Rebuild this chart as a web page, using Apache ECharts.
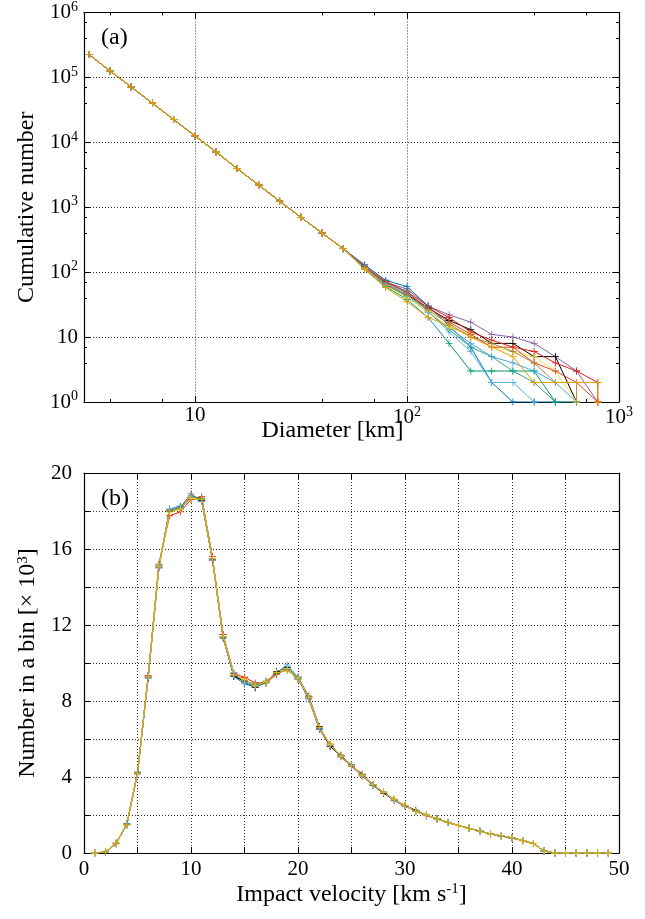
<!DOCTYPE html>
<html>
<head>
<meta charset="utf-8">
<script src="https://cdn.jsdelivr.net/npm/echarts@6/dist/echarts.min.js"></script>
<style>html,body{margin:0;padding:0;background:#fff}#c{width:645px;height:919px}</style>
</head>
<body>
<div id="c"></div>
<script>
// ---------- Panel (a): cumulative number vs diameter ----------
const diameters = [3.16,3.98,5.01,6.31,7.94,10,12.6,15.8,20,25.1,31.6,39.8,50.1,63.1,79.4,100,126,158,200,251,316,398,501,631,794];
// shared part (3.16 ... 50.1 km)
const headCounts = [226000,126000,71000,40000,22500,12600,7100,3950,2200,1240,700,400,230];
// per-run tails (63.1 ... 794 km)
const tailPurple = [125,70,55,30,22,17,11,10,8,5,3,1];
const tailBlack  = [118,65,45,28,18,13,8,8,5,5,1];
const tailRed    = [122,72,50,30,20,12,9,7,6,4,3,2];
const tailOrange = [110,58,35,20,15,10,7,5,2,2,2,2];
const tailYellow = [115,62,40,25,14,11,7,6,5,3,1];
const tailBlue   = [130,75,60,30,15,7,2,1,1,1,1];
const tailLBlue  = [120,66,45,25,12,6,2,2,1];
const tailGreen  = [112,60,38,20,8,3,3,3,3,1];
const tailTeal   = [120,68,50,25,13,7,5,3,2,1,1];
const tailLBlue2 = [117,64,42,24,14,8,5,4,3,2,1];
const tailRed2   = [121,69,48,28,17,11,7,7,4,3,2,1];
const tailBrown  = [116,63,44,26,16,10,8,6,4,2,2];
// last vertical drops to a single body
const dropRed = [794,1];
const dropOrange = [794,1];
const dropBrown = [631,1];

// ---------- Panel (b): impact velocity histogram ----------
const velocities = [1,2,3,4,5,6,7,8,9,10,11,12,13,14,15,16,17,18,19,20,21,22,23,24,25,26,27,28,29,30,31,32,33,34,35,36,37,38,39,40,41,42,43,44,45,46,47,48,49];
const velPurple = [0,0.04,0.48,1.52,4.15,9.25,15.0,18.05,18.2,18.9,18.5,15.4,11.3,9.35,9.0,8.75,9.05,9.45,9.65,9.15,8.1,6.5,5.65,5.05,4.55,4.05,3.55,3.15,2.75,2.45,2.2,1.95,1.8,1.6,1.45,1.3,1.15,1.0,0.88,0.78,0.64,0.5,0.1,0,0,0,0,0,0];
const velRed    = [0,0.05,0.5,1.5,4.2,9.35,15.2,17.75,17.95,18.6,18.75,15.6,11.5,9.45,9.25,8.95,8.95,9.4,9.7,9.2,8.2,6.6,5.7,5.1,4.6,4.1,3.6,3.2,2.8,2.5,2.2,2.0,1.8,1.6,1.45,1.3,1.15,1.0,0.9,0.8,0.65,0.5,0.1,0,0,0,0,0,0];
const velBlack  = [0,0.05,0.52,1.48,4.25,9.3,15.1,18.0,18.15,18.7,18.55,15.5,11.4,9.3,9.05,8.7,9.0,9.55,9.75,9.25,8.25,6.65,5.6,5.15,4.6,4.15,3.6,3.15,2.8,2.5,2.25,2.0,1.8,1.6,1.45,1.3,1.15,1.0,0.9,0.8,0.65,0.5,0.1,0,0,0,0,0,0];
const velBlue   = [0,0.05,0.5,1.55,4.2,9.2,15.05,18.1,18.25,18.7,18.6,15.45,11.35,9.3,8.9,8.75,8.95,9.5,9.8,9.2,8.15,6.55,5.7,5.1,4.65,4.1,3.55,3.2,2.8,2.5,2.2,2.0,1.8,1.62,1.45,1.3,1.15,1.0,0.9,0.8,0.66,0.5,0.1,0,0,0,0,0,0];
const velGreen  = [0,0.05,0.49,1.5,4.2,9.3,15.15,18.0,18.1,18.8,18.65,15.5,11.4,9.4,9.1,8.85,9.0,9.45,9.7,9.15,8.2,6.6,5.7,5.1,4.6,4.1,3.6,3.2,2.8,2.5,2.2,2.0,1.8,1.6,1.45,1.3,1.15,1.0,0.9,0.8,0.65,0.5,0.1,0,0,0,0,0,0];
const velLBlue  = [0,0.05,0.5,1.5,4.2,9.3,15.1,18.1,18.2,18.7,18.5,15.5,11.4,9.5,9.0,8.8,9.0,9.5,9.9,9.25,8.2,6.6,5.7,5.1,4.6,4.1,3.6,3.2,2.8,2.5,2.2,2.0,1.8,1.6,1.45,1.3,1.15,1.0,0.9,0.8,0.65,0.5,0.1,0,0,0,0,0,0];
const velYellow = [0,0.05,0.5,1.5,4.2,9.3,15.1,17.9,18.1,18.65,18.6,15.5,11.4,9.4,9.15,8.8,9.0,9.5,9.7,9.2,8.2,6.6,5.7,5.1,4.6,4.1,3.6,3.2,2.8,2.5,2.2,2.0,1.8,1.6,1.45,1.3,1.15,1.0,0.9,0.8,0.65,0.5,0.1,0,0,0,0,0,0];
const velOrange = [0,0.05,0.5,1.5,4.2,9.3,15.1,18.0,18.15,18.7,18.6,15.5,11.4,9.4,9.1,8.8,9.0,9.5,9.6,9.2,8.2,6.6,5.75,5.1,4.6,4.1,3.6,3.2,2.85,2.5,2.2,2.0,1.8,1.6,1.45,1.3,1.15,1.0,0.9,0.8,0.65,0.5,0.1,0,0,0,0,0,0];

const FONT = 'Liberation Serif';
const plus = 'path://M4.4,0H5.6V4.4H10V5.6H5.6V10H4.4V5.6H0V4.4H4.4Z';

function cumSeries(tail, drop) {
  const pts = [];
  headCounts.forEach((n, i) => pts.push([diameters[i], n]));
  tail.forEach((n, i) => pts.push([diameters[headCounts.length + i], n]));
  if (drop) pts.push(drop);
  return pts;
}

const topRuns = [
  ['#8a5ea6', tailPurple], ['#000000', tailBlack], ['#e51e10', tailRed, dropRed],
  ['#009e73', tailGreen], ['#0072b2', tailBlue], ['#56b4e9', tailLBlue],
  ['#2fa38a', tailTeal], ['#4aa8d8', tailLBlue2], ['#f0e442', tailYellow],
  ['#e0402a', tailRed2], ['#b08a3a', tailBrown, dropBrown], ['#e69f00', tailOrange, dropOrange]
];
const botRuns = [
  ['#8a5ea6', velPurple], ['#e51e10', velRed], ['#000000', velBlack], ['#0072b2', velBlue],
  ['#009e73', velGreen], ['#56b4e9', velLBlue], ['#f0e442', velYellow], ['#e69f00', velOrange]
];

const series = [];
topRuns.forEach(([c, t, d]) => series.push({
  type: 'line', xAxisIndex: 0, yAxisIndex: 0, data: cumSeries(t, d),
  symbol: plus, symbolSize: 7, showSymbol: true,
  lineStyle: {color: c, width: 1}, itemStyle: {color: c}, animation: false, z: 3
}));
botRuns.forEach(([c, v]) => series.push({
  type: 'line', xAxisIndex: 2, yAxisIndex: 2, data: velocities.map((x, i) => [x, v[i]]),
  symbol: plus, symbolSize: 7, showSymbol: true,
  lineStyle: {color: c, width: 1}, itemStyle: {color: c}, animation: false, z: 3
}));

function pow10Label(v) {
  const e = Math.log10(v);
  const r = Math.round(e);
  if (Math.abs(e - r) > 1e-6) return '';
  if (r === 1) return '{b|10}';
  return '{b|10}{s|' + r + '}';
}
const rich = {b: {fontFamily: FONT, fontSize: 21, color: '#000'}, s: {fontFamily: FONT, fontSize: 14, color: '#000', verticalAlign: 'top', padding: [0,0,11,0]}};
const supRich = {s: {fontFamily: FONT, fontSize: 15, color: '#000', verticalAlign: 'top', padding: [0,0,11,0]}};
const gridLine = {show: true, lineStyle: {color: '#333', type: [1, 2], width: 1}};
const axLine = {show: true, onZero: false, lineStyle: {color: '#000', width: 1.2}};
const tick = {show: true, inside: true, length: 6, lineStyle: {color: '#000'}};
const minorTick = {show: true, splitNumber: 3, length: 3, lineStyle: {color: '#000'}};

const option = {
  animation: false,
  backgroundColor: '#fff',
  textStyle: {fontFamily: FONT},
  grid: [
    {left: 84, top: 12, width: 535, height: 390},
    {left: 84, top: 473, width: 535, height: 380}
  ],
  xAxis: [
    {gridIndex: 0, type: 'log', logBase: 10, min: 3, max: 1000, splitNumber: 3, position: 'bottom',
     axisLine: axLine, axisTick: tick, minorTick: minorTick, splitLine: gridLine,
     axisLabel: {formatter: pow10Label, rich: rich, margin: 3, showMinLabel: false},
     name: 'Diameter [km]', nameLocation: 'middle', nameGap: 17, nameMoveOverlap: false,
     nameTextStyle: {fontFamily: FONT, fontSize: 24, color: '#000', padding: [0, 38, 0, 0]}},
    {gridIndex: 0, type: 'log', logBase: 10, min: 3, max: 1000, splitNumber: 3, position: 'top',
     axisLine: axLine, axisTick: tick, minorTick: minorTick, splitLine: {show: false}, axisLabel: {show: false}},
    {gridIndex: 1, type: 'value', min: 0, max: 50, interval: 5, position: 'bottom',
     axisLine: axLine, axisTick: tick, splitLine: gridLine,
     axisLabel: {formatter: v => (v % 10 === 0 ? String(v) : ''), fontFamily: FONT, fontSize: 21, color: '#000', margin: 6},
     name: 'Impact velocity [km s{s|-1}]', nameLocation: 'middle', nameGap: 29, nameMoveOverlap: false,
     nameTextStyle: {fontFamily: FONT, fontSize: 24, color: '#000', rich: supRich}},
    {gridIndex: 1, type: 'value', min: 0, max: 50, interval: 5, position: 'top',
     axisLine: axLine, axisTick: tick, splitLine: {show: false}, axisLabel: {show: false}}
  ],
  yAxis: [
    {gridIndex: 0, type: 'log', logBase: 10, min: 1, max: 1000000, interval: 1, position: 'left',
     axisLine: axLine, axisTick: tick, minorTick: minorTick, splitLine: gridLine,
     axisLabel: {formatter: pow10Label, rich: rich, margin: 6},
     name: 'Cumulative number', nameLocation: 'middle', nameGap: 42,
     nameTextStyle: {fontFamily: FONT, fontSize: 24, color: '#000'}},
    {gridIndex: 0, type: 'log', logBase: 10, min: 1, max: 1000000, interval: 1, position: 'right',
     axisLine: axLine, axisTick: tick, minorTick: minorTick, splitLine: {show: false}, axisLabel: {show: false}},
    {gridIndex: 1, type: 'value', min: 0, max: 20, interval: 2, position: 'left',
     axisLine: axLine, axisTick: tick, splitLine: gridLine,
     axisLabel: {formatter: v => (v % 4 === 0 ? String(v) : ''), fontFamily: FONT, fontSize: 21, color: '#000', margin: 12},
     name: 'Number in a bin [× 10{s|3}]', nameLocation: 'middle', nameGap: 42,
     nameTextStyle: {fontFamily: FONT, fontSize: 24, color: '#000', rich: supRich}},
    {gridIndex: 1, type: 'value', min: 0, max: 20, interval: 2, position: 'right',
     axisLine: axLine, axisTick: tick, splitLine: {show: false}, axisLabel: {show: false}}
  ],
  graphic: [
    {type: 'text', left: 101, top: 26, style: {text: '(a)', fontFamily: FONT, fontSize: 24, fill: '#000'}},
    {type: 'text', left: 101, top: 487, style: {text: '(b)', fontFamily: FONT, fontSize: 24, fill: '#000'}}
  ],
  series: series
};

const chart = echarts.init(document.getElementById('c'), null, {renderer: 'canvas'});
chart.setOption(option);
</script>
</body>
</html>
